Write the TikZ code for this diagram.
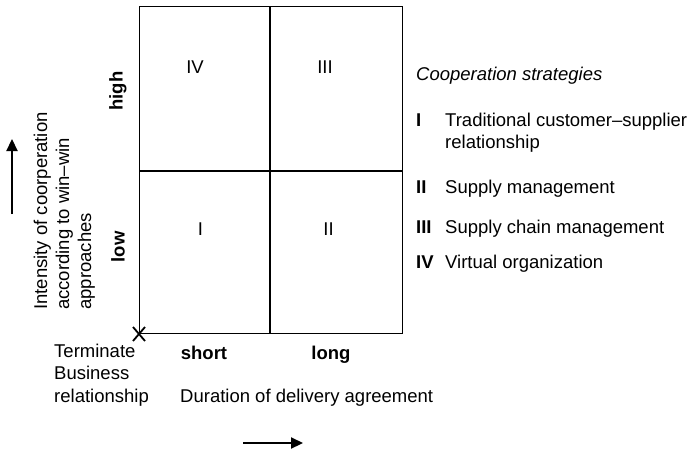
\documentclass[tikz,border=0pt]{standalone}
\usepackage{fontspec}
\setmainfont{Liberation Sans}
\usetikzlibrary{arrows.meta}
\begin{document}
\begin{tikzpicture}[x=1pt,y=-1pt,
  txt/.style={inner sep=0pt,font=\fontsize{18.5}{22}\selectfont},
  btxt/.style={txt,font=\fontsize{18.5}{22}\selectfont\bfseries},
  outer/.style={draw=black,line width=1pt},
  inner/.style={draw=black,line width=1.6pt},
  axisarrow/.style={line width=2.2pt,-{Triangle[length=12pt,width=11pt]}}]
\useasboundingbox (0,0) rectangle (687,452);
% grid
\draw[outer] (139,7) rectangle (402,333);
\draw[inner] (270,7) -- (270,333);
\draw[inner] (139,171) -- (402,171);
% cross at origin
\coordinate (origin) at (139,334);
\draw[line width=1.8pt] ([shift={(-6,-7)}]origin) -- ([shift={(6,7)}]origin)
                        ([shift={(6,-7)}]origin) -- ([shift={(-6,7)}]origin);
% quadrant labels
\node[txt,anchor=base] (qIV) at (195,74) {IV};
\node[txt,anchor=base] (qIII) at (325,74) {III};
\node[txt,anchor=base] (qI) at (200.5,235) {I};
\node[txt,anchor=base] (qII) at (328.5,235) {II};
% axis value labels
\node[btxt,rotate=90] (high) at (118,91) {high};
\node[btxt,rotate=90] (low) at (118,247) {low};
\node[btxt,anchor=base] (short) at (204,359) {short};
\node[btxt,anchor=base] (long) at (331,359) {long};
% y axis title
\node[txt,rotate=90,anchor=base west] (yt1) at (47,310) {Intensity of coorperation};
\node[txt,rotate=90,anchor=base west] (yt2) at (69,310) {according to win--win};
\node[txt,rotate=90,anchor=base west] (yt3) at (91,310) {approaches};
% x axis title
\node[txt,anchor=base west] (xt) at (180,402) {Duration of delivery agreement};
% terminate
\node[txt,anchor=base west] (t1) at (54,357) {Terminate};
\node[txt,anchor=base west] (t2) at (54,379.5) {Business};
\node[txt,anchor=base west] (t3) at (54,402) {relationship};
% arrows
\coordinate (ua) at (12,214);
\coordinate (ub) at (12,139);
\draw[axisarrow] (ua) -- (ub);
\coordinate (ra) at (243,443);
\coordinate (rb) at (303,443);
\draw[axisarrow] (ra) -- (rb);
% legend
\node[txt,anchor=base west,font=\fontsize{18.5}{22}\selectfont\itshape] (lt) at (416,80) {Cooperation strategies};
\node[btxt,anchor=base west] (n1) at (416,126) {I};
\node[txt,anchor=base west] (l1a) at (445,126) {Traditional customer--supplier};
\node[txt,anchor=base west] (l1b) at (445,148) {relationship};
\node[btxt,anchor=base west] (n2) at (416,193) {II};
\node[txt,anchor=base west] (l2) at (445,193) {Supply management};
\node[btxt,anchor=base west] (n3) at (416,233) {III};
\node[txt,anchor=base west] (l3) at (445,233) {Supply chain management};
\node[btxt,anchor=base west] (n4) at (416,268) {IV};
\node[txt,anchor=base west] (l4) at (445,268) {Virtual organization};
\end{tikzpicture}
\end{document}
